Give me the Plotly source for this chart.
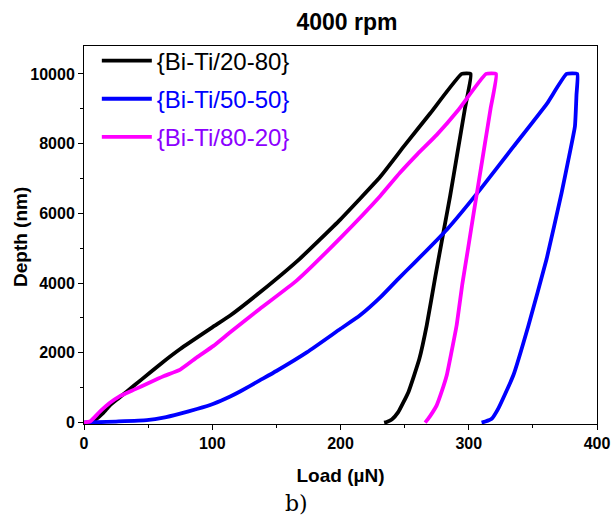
import plotly.graph_objects as go

# ---- data ----
load_2080 = [0, 5, 8, 15, 20, 27, 33, 45, 60, 75, 100, 114, 137, 168, 200, 231, 250, 270, 294.5,
             301.5, 297, 291, 285.5, 280.2, 274, 267.2, 261.5, 253, 245, 240, 236, 234]
depth_2080 = [0, 0, 60, 280, 490, 700, 880, 1240, 1690, 2110, 2730, 3070, 3730, 4690, 5830, 7050, 7950, 8870, 10000,
              10000, 9000, 7700, 6500, 5450, 4200, 2780, 1830, 880, 300, 90, 20, 0]

load_5050 = [0, 10, 25, 49, 62, 75, 88, 101, 114, 122, 137, 150, 174, 200, 215, 231, 246, 257, 283, 309, 335, 361, 376.3,
             384.6, 384.0, 382.8, 377.7, 372.4, 360.7, 346.5, 334.7, 323, 317.9, 313, 310]
depth_5050 = [0, 10, 30, 70, 140, 257, 390, 543, 750, 900, 1210, 1480, 2020, 2690, 3070, 3590, 4160, 4560, 5540, 6690, 7920, 9150, 10000,
              10000, 9400, 8500, 7540, 6590, 4690, 2780, 1350, 400, 110, 30, 0]

load_8020 = [0, 5, 12, 20, 28, 40, 50, 62, 75, 88, 101, 114, 137, 166, 200, 231, 246, 260, 275, 292, 313.5,
             321.3, 317, 312.6, 308.2, 303.8, 299.5, 295.1, 290.6, 286.4, 282.8, 279, 275, 271.9, 268, 266]
depth_8020 = [0, 40, 300, 560, 760, 960, 1130, 1330, 1520, 1870, 2200, 2590, 3260, 4080, 5300, 6500, 7150, 7700, 8250, 8970, 10000,
              10000, 9000, 8000, 7000, 6000, 5000, 4000, 2800, 2000, 1350, 900, 495, 300, 90, 0]

names = ["{Bi-Ti/20-80}", "{Bi-Ti/50-50}", "{Bi-Ti/80-20}"]
line_colors = ["#000000", "#0000ff", "#ff00ff"]
text_colors = ["#000000", "#0000ff", "#8c00ff"]

x_ticks = [0, 100, 200, 300, 400]
y_ticks = [0, 2000, 4000, 6000, 8000, 10000]

series = [(load_2080, depth_2080), (load_5050, depth_5050), (load_8020, depth_8020)]

fig = go.Figure()
for i, (xs, ys) in enumerate(series):
    fig.add_trace(go.Scatter(
        x=xs, y=ys, mode="lines",
        line=dict(color=line_colors[i], width=3.8, shape="spline", smoothing=0.4),
        name='<span style="color:%s">%s</span>' % (text_colors[i], names[i]),
        legendgroup="g%d" % i,
    ))

axis_font = dict(family="Liberation Sans, Arial, sans-serif", size=16, color="black", weight="bold")
title_font = dict(family="Liberation Sans, Arial, sans-serif", size=19, color="black", weight="bold")

fig.update_layout(
    width=611, height=515,
    margin=dict(l=84, r=14, t=46, b=91),
    paper_bgcolor="white", plot_bgcolor="white",
    title=dict(text="<b>4000 rpm</b>", x=347 / 611, xanchor="center",
               y=1 - 22 / 515, yanchor="middle",
               font=dict(family="Liberation Sans, Arial, sans-serif", size=23, color="black")),
    legend=dict(x=0.025, y=1.02, xanchor="left", yanchor="top",
                font=dict(family="Liberation Sans, Arial, sans-serif", size=24, color="black"),
                bgcolor="rgba(0,0,0,0)", tracegroupgap=4, itemwidth=50),
    showlegend=True,
)

fig.update_xaxes(
    range=[0, 400], tickvals=x_ticks, ticktext=[str(v) for v in x_ticks],
    showgrid=False, zeroline=False, automargin=False, ticklabeloverflow="allow",
    showline=True, linecolor="black", linewidth=1, mirror=True,
    ticks="outside", ticklen=5, tickcolor="black",
    minor=dict(ticks="outside", ticklen=3, dtick=50, tickcolor="black", showgrid=False),
    tickfont=axis_font,
    title=dict(text="Load (µN)", font=title_font, standoff=17),
)
fig.update_yaxes(
    range=[-40, 10800], tickvals=y_ticks, ticktext=[str(v) for v in y_ticks],
    showgrid=False, zeroline=False, automargin=False, ticklabeloverflow="allow",
    showline=True, linecolor="black", linewidth=1, mirror=True,
    ticks="outside", ticklen=5, tickcolor="black",
    minor=dict(ticks="outside", ticklen=3, dtick=1000, tickcolor="black", showgrid=False),
    tickfont=axis_font,
)

fig.add_annotation(
    text="<b>Depth (nm)</b>", xref="paper", yref="paper", x=(20 - 84) / 513, y=(424 - 237) / 378,
    textangle=-90, showarrow=False, xanchor="center", yanchor="middle",
    font=dict(family="Liberation Sans, Arial, sans-serif", size=19, color="black"),
)

fig.add_annotation(
    text="b)", xref="paper", yref="paper", x=(296 - 84) / 513, y=(424 - 503) / 378,
    showarrow=False, xanchor="center", yanchor="middle",
    font=dict(family="DejaVu Serif, Liberation Serif, serif", size=22, color="black"),
)

fig.write_html("out.html")
